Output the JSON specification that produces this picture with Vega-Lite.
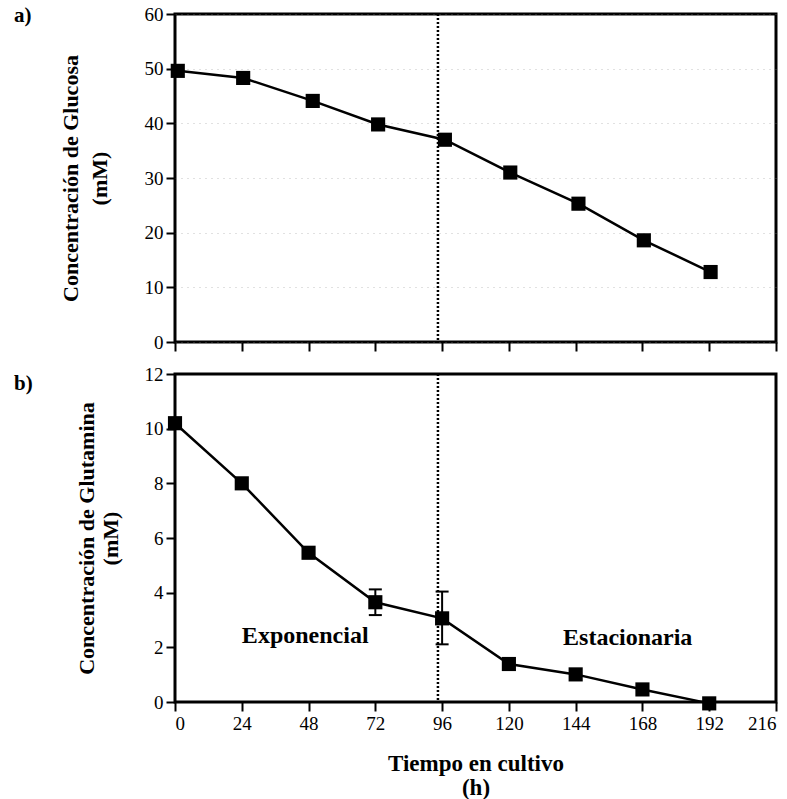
{
  "$schema": "https://vega.github.io/schema/vega-lite/v6.json",
  "background": "white",
  "padding": {"left": 12, "top": 3, "right": 8, "bottom": 0},
  "spacing": 9,
  "config": {
    "font": "'Liberation Serif', 'DejaVu Serif', serif",
    "view": {"stroke": "black", "strokeWidth": 3},
    "axis": {
      "domain": false,
      "ticks": true,
      "tickColor": "black",
      "tickWidth": 2,
      "tickSize": 9,
      "labelFont": "'Liberation Serif', 'DejaVu Serif', serif",
      "labelFontSize": 19,
      "labelColor": "black",
      "labelPadding": 3,
      "titleFont": "'Liberation Serif', 'DejaVu Serif', serif",
      "titleFontSize": 22,
      "titleFontWeight": "bold",
      "titleColor": "black",
      "grid": false
    },
    "title": {"font": "'Liberation Serif', 'DejaVu Serif', serif", "fontSize": 21, "fontWeight": "bold", "color": "black"}
  },
  "datasets": {
    "glucosa": [
      {"t": 1, "c": 49.6},
      {"t": 24.5, "c": 48.3},
      {"t": 49.5, "c": 44.1},
      {"t": 73, "c": 39.8},
      {"t": 97, "c": 37.0},
      {"t": 120.5, "c": 31.0},
      {"t": 145, "c": 25.3},
      {"t": 168.5, "c": 18.6},
      {"t": 192.5, "c": 12.8}
    ],
    "glutamina": [
      {"t": 0, "c": 10.2},
      {"t": 24, "c": 8.0},
      {"t": 48, "c": 5.46},
      {"t": 72, "c": 3.65},
      {"t": 96, "c": 3.06},
      {"t": 120, "c": 1.39},
      {"t": 144, "c": 1.01},
      {"t": 168, "c": 0.46},
      {"t": 192, "c": -0.05}
    ],
    "errores": [
      {"t": 72, "lo": 3.18, "hi": 4.12},
      {"t": 96, "lo": 2.11, "hi": 4.04}
    ],
    "fase": [{"t": 94.5}],
    "etiquetas": [
      {"t": 46.8, "c": 2.4, "texto": "Exponencial"},
      {"t": 162.7, "c": 2.33, "texto": "Estacionaria"}
    ]
  },
  "vconcat": [
    {
      "width": 601,
      "height": 328,
      "title": {"text": "a)", "anchor": "start", "frame": "group", "dx": -161, "dy": 25, "baseline": "top"},
      "encoding": {
        "x": {
          "field": "t",
          "type": "quantitative",
          "scale": {"domain": [0, 216], "nice": false, "zero": false},
          "axis": {"values": [0, 24, 48, 72, 96, 120, 144, 168, 192, 216], "labels": false, "title": null}
        }
      },
      "layer": [
        {
          "data": {"name": "fase"},
          "mark": {"type": "rule", "strokeDash": [2, 2], "strokeWidth": 2.5, "color": "black"},
          "encoding": {}
        },
        {
          "data": {"name": "glucosa"},
          "mark": {
            "type": "line",
            "color": "black",
            "strokeWidth": 2.5,
            "point": {"shape": "square", "size": 200, "filled": true, "color": "black", "opacity": 1}
          },
          "encoding": {
            "y": {
              "field": "c",
              "type": "quantitative",
              "scale": {"domain": [0, 60], "nice": false},
              "axis": {
                "values": [0, 10, 20, 30, 40, 50, 60],
                "title": ["Concentración de Glucosa", "(mM)"],
                "titlePadding": 33,
                "titleLineHeight": 29,
                "grid": true,
                "gridDash": [1, 5],
                "gridColor": "#888888",
                "gridOpacity": 0.5
              }
            }
          }
        }
      ]
    },
    {
      "width": 601,
      "height": 328,
      "title": {"text": "b)", "anchor": "start", "frame": "group", "dx": -161, "dy": 33, "baseline": "top"},
      "encoding": {
        "x": {
          "field": "t",
          "type": "quantitative",
          "scale": {"domain": [0, 216], "nice": false, "zero": false},
          "axis": {
            "values": [0, 24, 48, 72, 96, 120, 144, 168, 192, 216],
            "title": ["Tiempo en cultivo", "(h)"],
            "titleFontSize": 23,
            "titleLineHeight": 24,
            "titlePadding": 19
          }
        }
      },
      "layer": [
        {
          "data": {"name": "fase"},
          "mark": {"type": "rule", "strokeDash": [2, 2], "strokeWidth": 2.5, "color": "black"},
          "encoding": {}
        },
        {
          "data": {"name": "errores"},
          "mark": {"type": "rule", "color": "black", "strokeWidth": 2},
          "encoding": {
            "y": {"field": "lo", "type": "quantitative"},
            "y2": {"field": "hi"}
          }
        },
        {
          "data": {"name": "errores"},
          "mark": {"type": "tick", "orient": "horizontal", "size": 13, "thickness": 2, "color": "black", "opacity": 1},
          "encoding": {"y": {"field": "lo", "type": "quantitative"}}
        },
        {
          "data": {"name": "errores"},
          "mark": {"type": "tick", "orient": "horizontal", "size": 13, "thickness": 2, "color": "black", "opacity": 1},
          "encoding": {"y": {"field": "hi", "type": "quantitative"}}
        },
        {
          "data": {"name": "glutamina"},
          "mark": {
            "type": "line",
            "color": "black",
            "strokeWidth": 2.5,
            "point": {"shape": "square", "size": 200, "filled": true, "color": "black", "opacity": 1}
          },
          "encoding": {
            "y": {
              "field": "c",
              "type": "quantitative",
              "scale": {"domain": [0, 12], "nice": false},
              "axis": {
                "values": [0, 2, 4, 6, 8, 10, 12],
                "title": ["Concentración de Glutamina", "(mM)"],
                "titlePadding": 22,
                "titleLineHeight": 24
              }
            }
          }
        },
        {
          "data": {"name": "etiquetas"},
          "mark": {"type": "text", "font": "'Liberation Serif', 'DejaVu Serif', serif", "fontSize": 24, "fontWeight": "bold", "color": "black"},
          "encoding": {
            "y": {"field": "c", "type": "quantitative"},
            "text": {"field": "texto"}
          }
        }
      ]
    }
  ]
}
